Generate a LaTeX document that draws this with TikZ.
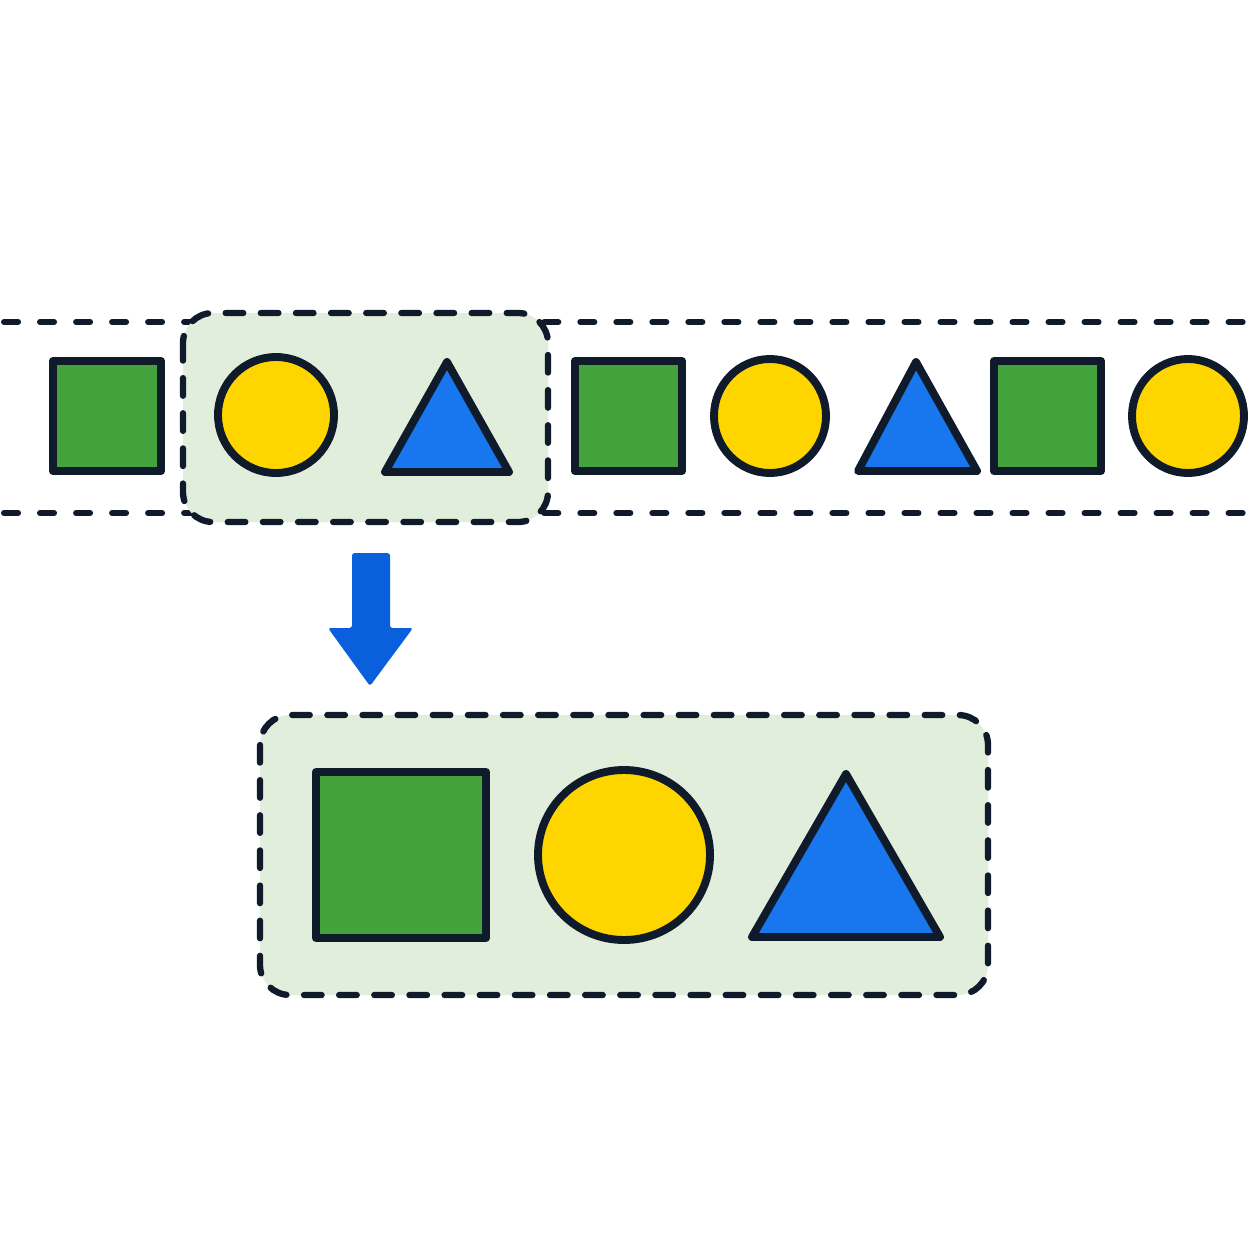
\documentclass[tikz,border=0pt]{standalone}
\usetikzlibrary{shapes.geometric}
\definecolor{ink}{HTML}{0F1B2B}
\definecolor{sqgreen}{HTML}{43A23B}
\definecolor{cyellow}{HTML}{FFD500}
\definecolor{tblue}{HTML}{1877EE}
\definecolor{arrowblue}{HTML}{0A5FDD}
\definecolor{boxgreen}{HTML}{E1EEDB}
\tikzset{
  shapeline/.style={draw=ink, line width=4.5pt, line join=round},
  sq/.style={shapeline, fill=sqgreen},
  ci/.style={shapeline, fill=cyellow},
  tri/.style={shapeline, fill=tblue},
  rail/.style={draw=ink, line width=3.4pt, line cap=round, dash pattern=on 8pt off 12.5pt},
  groupbox/.style={draw=ink, fill=boxgreen, line width=3.6pt, line cap=round, rounded corners=0.6cm, dash pattern=on 10pt off 10pt},
}
\begin{document}
\begin{tikzpicture}[x=0.02cm,y=-0.02cm]
\useasboundingbox[fill=white] (0,0) rectangle (1254,1254);
% rails
\coordinate (r1a) at (4,322); \coordinate (r1b) at (1254,322);
\coordinate (r2a) at (4,513); \coordinate (r2b) at (1254,513);
\draw[rail] (r1a) -- (r1b);
\draw[rail] (r2a) -- (r2b);
% highlight box
\draw[groupbox] (183,313) rectangle (548,522);
% top row
\draw[sq] (53,361) rectangle (161,471);
\draw[ci] (276,415) circle (58);
\draw[tri] (447,362) -- (509,472) -- (385,472) -- cycle;
\draw[sq] (575,361) rectangle (682,471);
\draw[ci] (770,416) ellipse (56 and 57);
\draw[tri] (916,362) -- (977,471) -- (858,471) -- cycle;
\draw[sq] (994,361) rectangle (1101,471);
\draw[ci] (1188,416) ellipse (56 and 57);
% arrow
\fill[arrowblue, rounded corners=1.5pt] (352,553) -- (390,553) -- (390,628) -- (413,628) -- (370,686) -- (328,628) -- (352,628) -- cycle;
% bottom box
\draw[groupbox] (260,715) rectangle (988,995);
\draw[sq] (316,772) rectangle (486,938);
\draw[ci] (624,855) ellipse (86 and 85);
\draw[tri] (846,774) -- (940,937) -- (752,937) -- cycle;
\end{tikzpicture}
\end{document}
